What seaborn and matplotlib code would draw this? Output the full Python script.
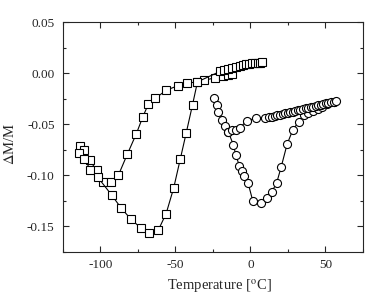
import matplotlib
matplotlib.use("Agg")
import matplotlib.pyplot as plt
from matplotlib.ticker import MultipleLocator
import seaborn as sns
import pandas as pd

# squares, branch through the shallow minimum
sq_a_t = [-113.6, -111.1, -107.1, -102.5, -98.2, -92.9, -88.0, -82.0, -76.1, -71.7,
          -68.1, -63.3, -56.2, -48.5, -42.3, -35.3, -30.9, -23.6, -18.5, -15.0, -12.4]
sq_a_m = [-0.0714, -0.0749, -0.0855, -0.0953, -0.1069, -0.1072, -0.1000, -0.0793, -0.0596, -0.0428,
          -0.0306, -0.0247, -0.0168, -0.0125, -0.0099, -0.0086, -0.0071, -0.0046, -0.0030, -0.0017, -0.0010]

# squares, branch through the deep minimum
sq_b_t = [-114.4, -110.7, -106.7, -101.7, -92.6, -86.4, -79.8, -73.2, -67.3, -61.3,
          -56.2, -51.2, -46.8, -42.8, -38.6, -35.3, -20.3, -17.6, -15.0, -12.4, -9.7,
          -7.1, -5.1, -3.1, -1.1, 0.9, 2.9, 4.8, 6.2, 7.9]
sq_b_m = [-0.0783, -0.0838, -0.0947, -0.1022, -0.1193, -0.1318, -0.1430, -0.1516, -0.1568, -0.1535,
          -0.1377, -0.1128, -0.0845, -0.0586, -0.0310, -0.0086, 0.0016, 0.0030, 0.0043, 0.0053, 0.0063,
          0.0072, 0.0079, 0.0085, 0.0090, 0.0095, 0.0098, 0.0101, 0.0103, 0.0105]

# circles, branch through the minimum
ci_a_t = [-24.5, -22.5, -21.3, -18.7, -16.7, -14.7, -11.4, -9.7, -7.4, -5.6, -4.2, -1.5,
          1.5, 7.0, 11.2, 14.1, 17.4, 20.5, 24.5, 28.2, 32.1, 35.4, 38.1, 41.4, 44.7, 48.0,
          51.3, 55.8]
ci_a_m = [-0.0248, -0.0317, -0.0377, -0.0458, -0.0515, -0.0579, -0.0702, -0.0806, -0.0907,
          -0.0956, -0.1006, -0.1082, -0.1249, -0.1272, -0.1227, -0.1165, -0.1080, -0.0919,
          -0.0694, -0.0559, -0.0477, -0.0414, -0.0395, -0.0369, -0.0349, -0.0329, -0.0306, -0.0280]

# circles, flat branch
ci_b_t = [-14.7, -12.0, -9.7, -7.1, -2.6, 4.0, 9.5, 12.5, 14.5, 16.3, 18.0, 19.7, 21.4,
          23.1, 24.8, 26.5, 28.2, 29.9, 31.6, 33.3, 35.0, 36.7, 38.4, 40.1, 41.8, 43.5,
          45.2, 46.9, 48.6, 50.3, 52.0, 53.7, 55.4, 56.8]
ci_b_m = [-0.0579, -0.0560, -0.0558, -0.0536, -0.0470, -0.0438, -0.0444, -0.0433, -0.0426,
          -0.0420, -0.0414, -0.0408, -0.0402, -0.0396, -0.0390, -0.0384, -0.0377, -0.0371,
          -0.0365, -0.0359, -0.0353, -0.0347, -0.0340, -0.0334, -0.0328, -0.0322, -0.0316,
          -0.0310, -0.0303, -0.0297, -0.0291, -0.0285, -0.0279, -0.0274]

sns.set_style("ticks")
plt.rcParams['font.family'] = ['Liberation Serif', 'DejaVu Serif']
plt.rcParams['mathtext.fontset'] = 'stix'

fig = plt.figure(figsize=(3.7, 2.94), dpi=100)
ax = fig.add_axes([0.170, 0.144, 0.811, 0.781])

series = [(sq_a_t, sq_a_m, 's'), (sq_b_t, sq_b_m, 's'),
          (ci_a_t, ci_a_m, 'o'), (ci_b_t, ci_b_m, 'o')]
for t, m, mk in series:
    df = pd.DataFrame({'T': t, 'dM': m})
    sns.lineplot(data=df, x='T', y='dM', sort=False, estimator=None, ax=ax,
                 color='black', linewidth=0.8, marker=mk, markersize=5.8,
                 markerfacecolor='white', markeredgecolor='black', markeredgewidth=0.8)

ax.set_xlim(-125, 75)
ax.set_ylim(-0.175, 0.05)
ax.set_xticks([-100, -50, 0, 50])
ax.set_yticks([-0.15, -0.10, -0.05, 0.00, 0.05])
ax.set_yticklabels(['-0.15', '-0.10', '-0.05', '0.00', '0.05'])
ax.set_xticklabels(['-100', '-50', '0', '50'])
ax.xaxis.set_minor_locator(MultipleLocator(25))
ax.yaxis.set_minor_locator(MultipleLocator(0.025))
ax.tick_params(which='both', direction='in', top=True, right=True, labelsize=9.5, width=0.8)
ax.tick_params(which='major', length=4)
ax.tick_params(which='minor', length=2.2)
ax.tick_params(axis='y', pad=6)
ax.tick_params(axis='x', pad=5)
for s in ax.spines.values():
    s.set_linewidth(0.8)

ax.set_xlabel(r'Temperature [$^{\rm o}$C]', fontsize=10.5)
ax.set_ylabel(r'$\Delta$M/M', fontsize=10.5)
ax.xaxis.set_label_coords(0.52, -0.11)
ax.yaxis.set_label_coords(-0.153, 0.47)

plt.savefig("out.png", dpi=100)
plt.close()
